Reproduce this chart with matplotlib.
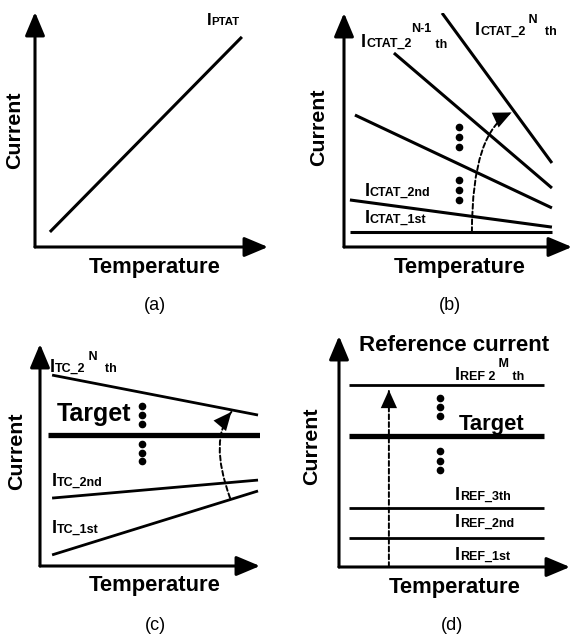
import matplotlib
matplotlib.use('Agg')
from matplotlib import pyplot as plt

plt.rcParams['font.family'] = 'Liberation Sans'

W, H = 574, 637

# panel (a): PTAT current, rising with temperature
ptat_x = [0.064, 0.888]
ptat_y = [0.064, 0.894]

# panel (b): CTAT currents, start point and end point of each line
ctat_x0 = [0.026, 0.026, 0.048, 0.219, 0.430]
ctat_y0 = [0.064, 0.201, 0.564, 0.829, 1.000]
ctat_x1 = [0.912, 0.912, 0.912, 0.912, 0.912]
ctat_y1 = [0.064, 0.085, 0.167, 0.252, 0.359]
ctat_dots_x = [0.504] * 6
ctat_dots_y = [0.513, 0.470, 0.427, 0.286, 0.244, 0.201]
# label pieces: (text, size, rise in points)
ctat_labels = [
    [('I', 13, 0), ('CTAT_1st', 9, 0)],
    [('I', 13, 0), ('CTAT_2nd', 9, 0)],
    [('I', 13, 0), ('CTAT_2', 9, 0), ('N-1', 9, 10.5), (' th', 9, -1)],
    [('I', 13, 0), ('CTAT_2', 9, 0), (' N', 9, 8.6), ('  th', 9, 0)],
]
ctat_label_x = [0.092, 0.092, 0.075, 0.575]
ctat_label_y = [0.103, 0.218, 0.855, 0.906]

# panel (c): trimmed currents around the target
tc_x0 = [0.055, 0.055, 0.055]
tc_y0 = [0.050, 0.306, 0.860]
tc_x1 = [0.991, 0.991, 0.991]
tc_y1 = [0.338, 0.387, 0.680]
tc_target_x = [0.036, 1.0]
tc_target_y = [0.590, 0.590]
tc_dots_x = [0.464] * 6
tc_dots_y = [0.721, 0.680, 0.640, 0.550, 0.509, 0.473]
tc_labels = [
    [('I', 13, 0), ('TC_1st', 9, 0)],
    [('I', 13, 0), ('TC_2nd', 9, 0)],
    [('I', 13, 0), ('TC_2', 9, 0), (' N', 9, 8.6), ('  th', 9, 0)],
]
tc_label_x = [0.055, 0.055, 0.045]
tc_label_y = [0.149, 0.360, 0.874]

# panel (d): flat reference currents
ref_x = [0.043, 0.887]
ref_levels = [0.126, 0.255, 0.788]
ref_target = 0.567
ref_dots_x = [0.437] * 6
ref_dots_y = [0.732, 0.693, 0.654, 0.502, 0.459, 0.420]
ref_labels = [
    [('I', 13, 0), ('REF_1st', 9, 0)],
    [('I', 13, 0), ('REF_2nd', 9, 0)],
    [('I', 13, 0), ('REF_3th', 9, 0)],
    [('I', 13, 0), ('REF 2', 9, 0), (' M', 9, 9.4), (' th', 9, 0)],
]
ref_label_x = [0.502, 0.502, 0.502, 0.502]
ref_label_y = [0.030, 0.173, 0.290, 0.810]

# axis origin and arrow tips in pixels, per panel
panel_boxes = {
    'a': (35, 247, 268, 12),
    'b': (344, 247, 572, 13),
    'c': (40, 566, 260, 344),
    'd': (339, 567, 570, 336),
}
current_pos = {'a': (15, 130), 'b': (319, 127), 'c': (17, 451), 'd': (312, 446)}
temp_pos = {'a': (155, 267), 'b': (460, 267), 'c': (155, 585), 'd': (455, 588)}
tag_pos = {'a': (155, 305), 'b': (450, 305), 'c': (155, 625), 'd': (452, 625)}

fig = plt.figure(figsize=(W / 100, H / 100), dpi=100)
fig.patch.set_facecolor('white')
renderer = fig.canvas.get_renderer()

AX_ARROW = dict(arrowstyle='-|>,head_length=1.0,head_width=0.42', mutation_scale=14.4,
                lw=2.2, color='black', shrinkA=0, shrinkB=0)


def fig_xy(px, py):
    return px / W, 1 - py / H


def make_panel(key):
    x0, y0, x1, y1 = panel_boxes[key]
    ax = fig.add_axes([x0 / W, 1 - y0 / H, (x1 - x0) / W, (y0 - y1) / H])
    ax.set_xlim(0, 1)
    ax.set_ylim(0, 1)
    ax.axis('off')
    ax.annotate('', xy=(1, 0), xytext=(0, 0), xycoords='axes fraction', arrowprops=AX_ARROW)
    ax.annotate('', xy=(0, 1), xytext=(0, 0), xycoords='axes fraction', arrowprops=AX_ARROW)
    fx, fy = fig_xy(*current_pos[key])
    fig.text(fx, fy, 'Current', rotation=90, fontsize=15.4, fontweight='bold',
             ha='center', va='center')
    fx, fy = fig_xy(*temp_pos[key])
    fig.text(fx, fy, 'Temperature', fontsize=15.8, fontweight='bold', ha='center', va='center')
    fx, fy = fig_xy(*tag_pos[key])
    fig.text(fx, fy, f'({key})', fontsize=13, ha='center', va='center')
    return ax


def label(ax, x, y, pieces, scale=1.0):
    # draw the pieces one after another on a shared baseline
    dx = 0
    for s, size, rise in pieces:
        t = ax.annotate(s, xy=(x, y), xytext=(dx, rise), textcoords='offset points',
                        fontsize=size * scale, fontweight='bold', ha='left', va='baseline',
                        annotation_clip=False)
        dx += t.get_window_extent(renderer).width * 72 / fig.dpi


def dashed_arrow(ax, start, end, conn):
    # dashed shaft, solid filled head drawn on top
    ax.annotate('', xy=end, xytext=start,
                arrowprops=dict(arrowstyle='-', lw=1.4, color='black', linestyle=(0, (2.5, 1.5)),
                                shrinkA=0, shrinkB=0, connectionstyle=conn))
    ax.annotate('', xy=end, xytext=start,
                arrowprops=dict(arrowstyle='-|>,head_length=1.0,head_width=0.45', mutation_scale=13,
                                lw=0.01, color='black', shrinkA=0, shrinkB=0,
                                connectionstyle=conn))


# (a)
ax = make_panel('a')
ax.plot(ptat_x, ptat_y, color='black', lw=2.2, solid_capstyle='butt')
label(ax, 0.738, 0.945, [('I', 13, 0), ('PTAT', 9, 0)], scale=0.92)

# (b)
ax = make_panel('b')
for xa, ya, xb, yb in zip(ctat_x0, ctat_y0, ctat_x1, ctat_y1):
    ax.plot([xa, xb], [ya, yb], color='black', lw=2.2, solid_capstyle='butt')
ax.plot(ctat_dots_x, ctat_dots_y, 'o', color='black', ms=4.5)
for x, y, pieces in zip(ctat_label_x, ctat_label_y, ctat_labels):
    label(ax, x, y, pieces)
dashed_arrow(ax, (0.561, 0.064), (0.735, 0.575), 'angle3,angleA=90,angleB=25')

# (c)
ax = make_panel('c')
for xa, ya, xb, yb in zip(tc_x0, tc_y0, tc_x1, tc_y1):
    ax.plot([xa, xb], [ya, yb], color='black', lw=2.0, solid_capstyle='butt')
ax.plot(tc_target_x, tc_target_y, color='black', lw=3.8, solid_capstyle='butt')
ax.plot(tc_dots_x, tc_dots_y, 'o', color='black', ms=4.5)
for x, y, pieces in zip(tc_label_x, tc_label_y, tc_labels):
    label(ax, x, y, pieces)
ax.text(0.077, 0.653, 'Target', fontsize=18, fontweight='bold', ha='left', va='baseline')
dashed_arrow(ax, (0.864, 0.306), (0.870, 0.694), 'angle3,angleA=110,angleB=50')

# (d)
ax = make_panel('d')
for lvl in ref_levels:
    ax.plot(ref_x, [lvl, lvl], color='black', lw=2.0, solid_capstyle='butt')
ax.plot(ref_x, [ref_target, ref_target], color='black', lw=3.8, solid_capstyle='butt')
ax.plot(ref_dots_x, ref_dots_y, 'o', color='black', ms=4.5)
for x, y, pieces in zip(ref_label_x, ref_label_y, ref_labels):
    label(ax, x, y, pieces)
ax.text(0.519, 0.593, 'Target', fontsize=15.8, fontweight='bold', ha='left', va='baseline')
ax.text(0.087, 0.935, 'Reference current', fontsize=16, fontweight='bold', ha='left', va='baseline')
dashed_arrow(ax, (0.216, 0.0), (0.216, 0.766), 'arc3,rad=0')

fig.savefig('out.png', dpi=100, facecolor='white')
